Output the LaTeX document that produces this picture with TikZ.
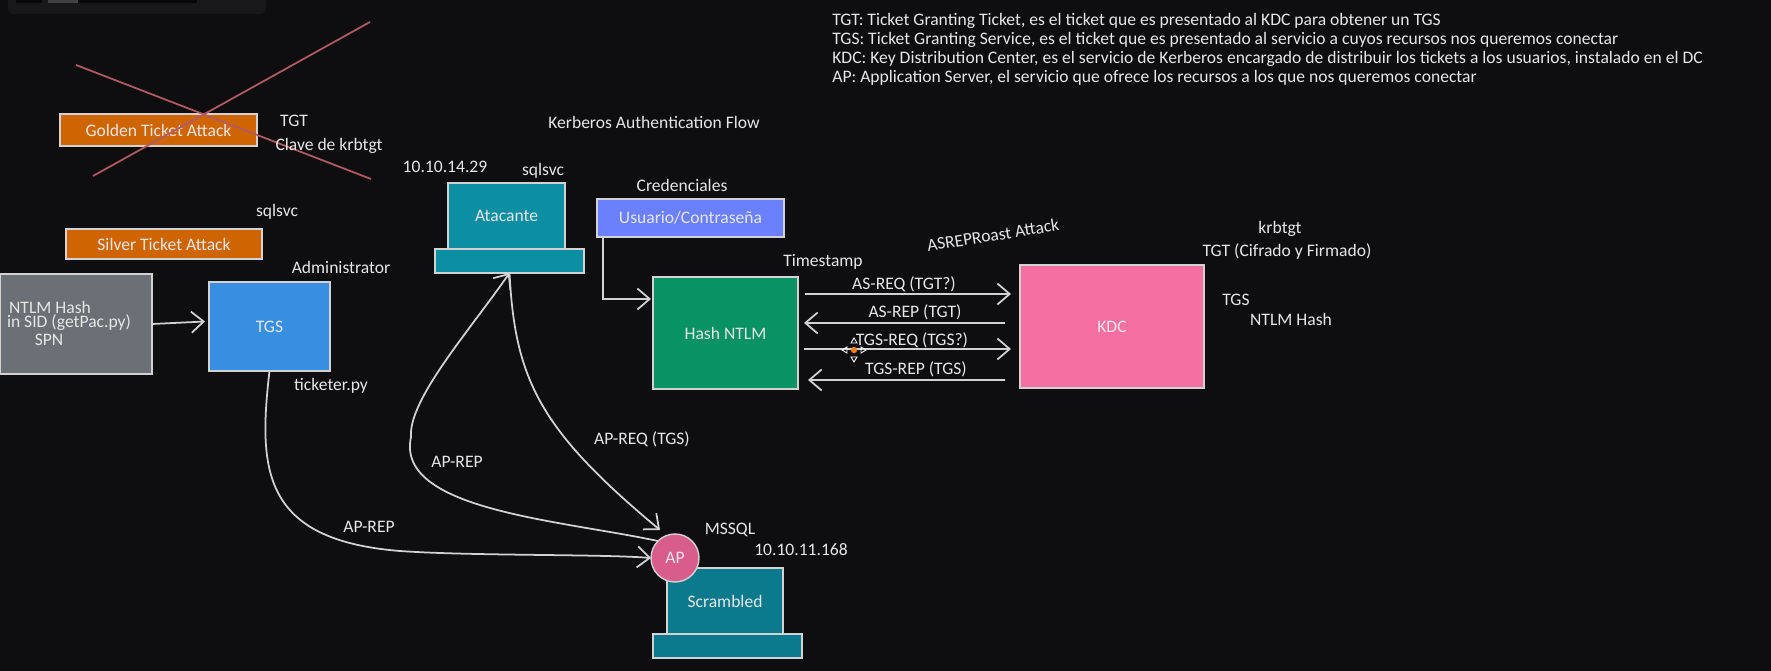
\documentclass[tikz,border=0pt]{standalone}
\usepackage{fontspec}
\setmainfont{Carlito}
\usetikzlibrary{arrows.meta,calc}
\definecolor{bgdark}{HTML}{0E0E10}
\definecolor{barkdark}{HTML}{18181A}
\definecolor{inkgray}{HTML}{D2D2D2}
\definecolor{txtlight}{HTML}{E6E6E6}
\definecolor{crossred}{HTML}{B25A62}
\definecolor{attackor}{HTML}{CE6500}
\definecolor{hashgray}{HTML}{6B7076}
\definecolor{tgsblue}{HTML}{388EE0}
\definecolor{hostteal}{HTML}{0C8FA3}
\definecolor{scrteal}{HTML}{0B7A8C}
\definecolor{credblue}{HTML}{6A80FF}
\definecolor{ntlmgreen}{HTML}{099263}
\definecolor{kdcpink}{HTML}{F56FA2}
\definecolor{appink}{HTML}{D85C8C}
\tikzset{
  lbl/.style={text=txtlight,font=\fontsize{10}{12}\selectfont,inner sep=0pt},
  box/.style={draw=inkgray,line width=0.8pt,outer sep=0pt,inner sep=0pt,text=txtlight,font=\fontsize{10}{12}\selectfont},
  arr/.style={draw=inkgray,line width=1pt,-{Straight Barb[length=7pt,width=12pt]}},
  crossline/.style={draw=crossred,line width=1pt}
}
\begin{document}
\begin{tikzpicture}[x=0.02cm,y=-0.02cm]
\useasboundingbox[fill=bgdark] (0,0) rectangle (1771,671);
\fill[barkdark,rounded corners=3pt] (8,-6) rectangle (266,14);
\fill[black!70!barkdark] (16,-6) rectangle (42,3);
\fill[black!70!barkdark] (48,-6) rectangle (197,3);
\fill[gray!40!barkdark] (48,-6) rectangle (78,3);

\node[box,fill=attackor,minimum width=197*0.02cm,minimum height=32*0.02cm] (golden) at (158.5,130) {Golden Ticket Attack};
\node[box,fill=attackor,minimum width=196*0.02cm,minimum height=30*0.02cm] (silver) at (164,244) {Silver Ticket Attack};
\coordinate (crossa) at (76,65);
\coordinate (crossb) at (371,179);
\coordinate (crossc) at (370,22);
\coordinate (crossd) at (93,176);
\draw[crossline] (crossa) -- (crossb);
\draw[crossline] (crossc) -- (crossd);
\node[lbl] (tgtl) at (294,121) {TGT};
\node[lbl] (clave) at (329,146) {Clave de krbtgt};
\node[lbl] (sqla) at (277,212) {sqlsvc};
\node[lbl] (admin) at (341,267) {Administrator};
\node[lbl] (ticketer) at (331,386) {ticketer.py};

\node[box,fill=hashgray,minimum width=152*0.02cm,minimum height=100*0.02cm] (hashbox) at (76,324) {};
\node[lbl] (hasha) at (50,307) {NTLM Hash};
\node[lbl] (hashb) at (69,323) {in SID (getPac.py)};
\node[lbl] (hashc) at (49,340) {SPN};
\node[box,fill=tgsblue,minimum width=121*0.02cm,minimum height=89*0.02cm] (tgs) at (269.5,326.5) {TGS};
\draw[arr] (hashbox.east) -- ($(tgs.west)+(-4,-5)$);

\node[box,fill=hostteal,minimum width=117*0.02cm,minimum height=66*0.02cm] (atacante) at (506.5,216) {Atacante};
\node[box,fill=hostteal,minimum width=149*0.02cm,minimum height=24*0.02cm] (atabase) at (509.5,261) {};
\node[lbl] (ipa) at (445,167) {10.10.14.29};
\node[lbl] (sqlb) at (543,171) {sqlsvc};
\node[lbl] (flow) at (654,122) {Kerberos Authentication Flow};

\node[box,fill=credblue,minimum width=187*0.02cm,minimum height=38*0.02cm] (usuario) at (690.5,218) {Usuario/Contraseña};
\node[lbl] (cred) at (682,185) {Credenciales};
\node[box,fill=ntlmgreen,minimum width=145*0.02cm,minimum height=112*0.02cm] (hash) at (725.5,333) {Hash NTLM};
\node[box,fill=kdcpink,minimum width=184*0.02cm,minimum height=123*0.02cm] (kdc) at (1112,326.5) {KDC};
\draw[arr] ($(usuario.south west)+(6,0)$) |- ($(hash.west)+(-2,-34)$);

\node[lbl] (stamp) at (823,262) {Timestamp};
\node[lbl,rotate=9] (asrep) at (993,235) {ASREPRoast Attack};
\node[lbl] (krb) at (1280,229) {krbtgt};
\node[lbl] (tgtc) at (1287,251) {TGT (Cifrado y Firmado)};
\node[lbl] (tgsl) at (1236,300) {TGS};
\node[lbl] (ntlml) at (1291,319) {NTLM Hash};

\draw[arr] ($(hash.east)+(7,-39)$) -- ($(kdc.west)+(-9,-32.5)$);
\draw[arr] ($(kdc.west)+(-15,-3.5)$) -- ($(hash.east)+(6,-10)$);
\draw[arr] ($(hash.east)+(6,16)$) -- ($(kdc.west)+(-9,22.5)$);
\draw[arr] ($(kdc.west)+(-15,53.5)$) -- ($(hash.east)+(10,47)$);
\node[lbl] (reqa) at (904,284) {AS-REQ (TGT?)};
\node[lbl] (repa) at (915,312) {AS-REP (TGT)};
\node[lbl] (reqb) at (912,340) {TGS-REQ (TGS?)};
\node[lbl] (repb) at (916,369) {TGS-REP (TGS)};

\fill[orange] (854,350) circle (1.8pt);
\foreach \a in {0,90,180,270}
  \draw[white,line width=0.5pt,rotate around={\a:(854,350)}] (861,347) -- (866,350) -- (861,353) -- cycle;

\node[box,fill=scrteal,minimum width=116*0.02cm,minimum height=66*0.02cm] (scrambled) at (725,601) {Scrambled};
\node[box,fill=scrteal,minimum width=149*0.02cm,minimum height=24*0.02cm] (scrbase) at (727.5,646) {};
\node[box,circle,fill=appink,minimum size=48*0.02cm] (ap) at (675,558) {AP};
\node[lbl] (mssql) at (730,530) {MSSQL};
\node[lbl] (ipb) at (801,550) {10.10.11.168};

\draw[arr] (tgs.south) .. controls (258,470) and (262,540) .. (400,551) .. controls (470,556) and (600,554) .. (ap.west);
\draw[arr] (ap.north west) .. controls (560,520) and (395,510) .. (411,437) .. controls (408,400) and (470,330) .. (atabase.south);
\draw[arr] (atabase.south) .. controls (515,380) and (540,430) .. ($(ap.north west)+(2,-11)$);
\node[lbl] (apreq) at (642,439) {AP-REQ (TGS)};
\node[lbl] (aprepa) at (457,462) {AP-REP};
\node[lbl] (aprepb) at (369,527) {AP-REP};

\node[lbl,anchor=west] (defa) at (832,21) {TGT: Ticket Granting Ticket, es el ticket que es presentado al KDC para obtener un TGS};
\node[lbl,anchor=west] (defb) at (832,40) {TGS: Ticket Granting Service, es el ticket que es presentado al servicio a cuyos recursos nos queremos conectar};
\node[lbl,anchor=west] (defc) at (832,59) {KDC: Key Distribution Center, es el servicio de Kerberos encargado de distribuir los tickets a los usuarios, instalado en el DC};
\node[lbl,anchor=west] (defd) at (832,78) {AP: Application Server, el servicio que ofrece los recursos a los que nos queremos conectar};
\end{tikzpicture}
\end{document}
